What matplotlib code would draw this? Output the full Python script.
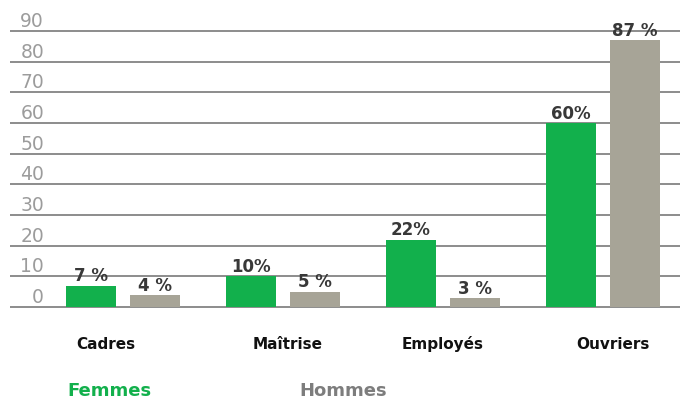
import matplotlib
matplotlib.use("Agg")
import matplotlib.pyplot as plt
import numpy as np

categories = ["Cadres", "Maîtrise", "Employés", "Ouvriers"]
femmes = [7, 10, 22, 60]
hommes = [4, 5, 3, 87]
femmes_labels = ["7 %", "10%", "22%", "60%"]
hommes_labels = ["4 %", "5 %", "3 %", "87 %"]
yticks = [0, 10, 20, 30, 40, 50, 60, 70, 80, 90]
series_names = ["Femmes", "Hommes"]

GREEN = "#12b04c"
GRAY = "#a7a497"

W, H = 680, 401
fig = plt.figure(figsize=(W / 100, H / 100), dpi=100)

ppu = 3.068  # pixels per unit
y0_px = 307  # pixel row of value 0
ylo, yhi = -0.5, 90.5
ax_h = (yhi - ylo) * ppu
ax_bottom = H - y0_px - (0 - ylo) * ppu
ax = fig.add_axes([10 / W, ax_bottom / H, 670 / W, ax_h / H])

x = np.arange(len(categories))
bw = 50 / 160
off = 32 / 160
ax.bar(x - off, femmes, width=bw, color=GREEN, zorder=3)
ax.bar(x + off, hommes, width=bw, color=GRAY, zorder=3)

ax.set_xlim((10 - 123) / 160, (680 - 123) / 160)
ax.set_ylim(ylo, yhi)

ax.set_yticks(yticks, [str(t) for t in yticks], ha="right", va="bottom")
ax.tick_params(axis="y", length=0, pad=-24.5, labelsize=13.5, labelcolor="#9c9c9c")
ax.set_xticks([])
ax.yaxis.grid(True, color="#8c8c8c", lw=1.4)
ax.set_axisbelow(True)
for s in ax.spines.values():
    s.set_visible(False)

for xi, v, lbl in zip(x - off, femmes, femmes_labels):
    ax.annotate(lbl, xy=(xi, v), xytext=(0, 3), textcoords="offset points",
                ha="center", va="baseline", fontsize=12, fontweight="bold",
                color="#383838", zorder=4)
for xi, v, lbl in zip(x + off, hommes, hommes_labels):
    ax.annotate(lbl, xy=(xi, v), xytext=(0, 3), textcoords="offset points",
                ha="center", va="baseline", fontsize=12, fontweight="bold",
                color="#383838", zorder=4)

cat_dx_px = [-17, 5, 0, 10]
for xi, cat, dx in zip(x, categories, cat_dx_px):
    ax.annotate(cat, xy=(xi, 0), xytext=(dx * 0.72, -42 * 0.72),
                textcoords="offset points", ha="center", va="baseline",
                fontsize=11, fontweight="bold", color="#111111",
                annotation_clip=False)

fig.text(109 / W, 1 - 396 / H, series_names[0], ha="center", va="baseline",
         fontsize=13, fontweight="bold", color=GREEN)
fig.text(343.5 / W, 1 - 396 / H, series_names[1], ha="center", va="baseline",
         fontsize=13, fontweight="bold", color="#7d7d7d")

fig.savefig("out.png", dpi=100)
